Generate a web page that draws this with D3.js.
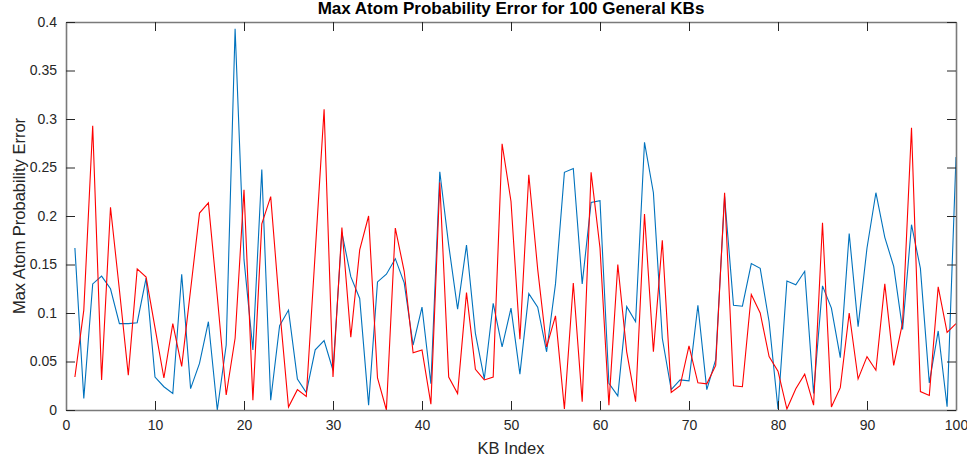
<!DOCTYPE html>
<html>
<head>
<meta charset="utf-8">
<script src="https://cdn.jsdelivr.net/npm/d3@7"></script>
<style>
  html, body { margin: 0; padding: 0; background: #fff; }
  svg { display: block; font-family: "Liberation Sans", Arial, Helvetica, sans-serif; }
</style>
</head>
<body>
<svg id="chart" width="967" height="461"></svg>
<script>
const titleText = "Max Atom Probability Error for 100 General KBs";
const xLabel = "KB Index";
const yLabel = "Max Atom Probability Error";
const xTicks = [0, 10, 20, 30, 40, 50, 60, 70, 80, 90, 100];
const yTicks = [0, 0.05, 0.1, 0.15, 0.2, 0.25, 0.3, 0.35, 0.4];
const yTickLabels = ["0", "0.05", "0.1", "0.15", "0.2", "0.25", "0.3", "0.35", "0.4"];

const kbIndex = d3.range(1, 101);

const blueSeries = [
  0.167, 0.012, 0.130, 0.138, 0.125, 0.089, 0.089, 0.090, 0.136, 0.034,
  0.024, 0.017, 0.140, 0.022, 0.048, 0.091, 0.000, 0.067, 0.393, 0.155,
  0.062, 0.248, 0.010, 0.087, 0.103, 0.032, 0.018, 0.062, 0.0715, 0.041,
  0.183, 0.1375, 0.115, 0.005, 0.132, 0.140, 0.156, 0.131, 0.067, 0.106,
  0.027, 0.2456, 0.170, 0.104, 0.170, 0.079, 0.032, 0.110, 0.065, 0.105,
  0.037, 0.120, 0.106, 0.060, 0.130, 0.245, 0.249, 0.130, 0.214, 0.2157,
  0.0275, 0.0145, 0.1066, 0.091, 0.276, 0.224, 0.074, 0.021, 0.031, 0.030,
  0.108, 0.021, 0.052, 0.220, 0.108, 0.107, 0.151, 0.146, 0.091, 0.001,
  0.133, 0.129, 0.143, 0.017, 0.128, 0.105, 0.054, 0.182, 0.086, 0.167,
  0.224, 0.178, 0.148, 0.083, 0.191, 0.146, 0.028, 0.0815, 0.0034, 0.2607
];

const redSeries = [
  0.034, 0.103, 0.293, 0.031, 0.209, 0.124, 0.036, 0.1455, 0.137, 0.085,
  0.033, 0.089, 0.045, 0.124, 0.203, 0.2135, 0.117, 0.0155, 0.074, 0.227,
  0.010, 0.192, 0.220, 0.105, 0.003, 0.021, 0.014, 0.162, 0.310, 0.034,
  0.188, 0.075, 0.165, 0.200, 0.033, 0.000, 0.1875, 0.143, 0.059, 0.062,
  0.006, 0.2346, 0.034, 0.017, 0.121, 0.042, 0.031, 0.034, 0.2745, 0.215,
  0.073, 0.2425, 0.145, 0.065, 0.097, 0.001, 0.131, 0.0086, 0.245, 0.167,
  0.005, 0.150, 0.060, 0.0086, 0.202, 0.060, 0.175, 0.018, 0.025, 0.066,
  0.028, 0.027, 0.046, 0.224, 0.025, 0.024, 0.119, 0.100, 0.055, 0.040,
  0.001, 0.022, 0.037, 0.005, 0.193, 0.003, 0.023, 0.100, 0.032, 0.055,
  0.041, 0.130, 0.046, 0.090, 0.291, 0.019, 0.015, 0.127, 0.080, 0.089
];

const svg = d3.select("#chart");
const margin = { left: 66, right: 11, top: 22, bottom: 51 };
const W = 967, H = 461;
const plotW = W - margin.left - margin.right;
const plotH = H - margin.top - margin.bottom;

const x = d3.scaleLinear().domain([0, 100]).range([margin.left, margin.left + plotW]);
const y = d3.scaleLinear().domain([0, 0.4]).range([margin.top + plotH, margin.top]);

const axisColor = "#262626";
const boxColor = "#7a7a7a";
const tickLen = 9;

// Lines
const line = d3.line().x((d, i) => x(kbIndex[i])).y(d => y(d));
const plot = svg.append("g");
plot.append("path").datum(blueSeries)
  .attr("d", line).attr("fill", "none").attr("stroke", "#0072BD").attr("stroke-width", 1.1);
plot.append("path").datum(redSeries)
  .attr("d", line).attr("fill", "none").attr("stroke", "#FF0000").attr("stroke-width", 1.1);

// Axes (bottom, left, top, right) with inward ticks
function styleAxis(g) {
  g.select(".domain").attr("stroke", boxColor).attr("stroke-width", 1.6);
  g.selectAll(".tick line").attr("stroke", axisColor).attr("stroke-width", 1);
  g.selectAll(".tick text").attr("fill", axisColor)
    .style("font-size", "14px").style("font-family", "'Liberation Sans', Arial, sans-serif");
}

const xAxisB = d3.axisBottom(x).tickValues(xTicks).tickFormat(d3.format("d"))
  .tickSizeInner(-tickLen).tickSizeOuter(0).tickPadding(8);
const gxb = svg.append("g").attr("transform", `translate(0,${margin.top + plotH})`)
  .call(xAxisB).call(styleAxis);
gxb.selectAll(".tick text").attr("y", 20).attr("dy", "0");

const xAxisT = d3.axisTop(x).tickValues(xTicks).tickFormat("")
  .tickSizeInner(-tickLen).tickSizeOuter(0);
svg.append("g").attr("transform", `translate(0,${margin.top})`).call(xAxisT).call(styleAxis);

const yAxisL = d3.axisLeft(y).tickValues(yTicks).tickFormat((d, i) => yTickLabels[i])
  .tickSizeInner(-tickLen).tickSizeOuter(0).tickPadding(9);
svg.append("g").attr("transform", `translate(${margin.left},0)`).call(yAxisL).call(styleAxis);

const yAxisR = d3.axisRight(y).tickValues(yTicks).tickFormat("")
  .tickSizeInner(-tickLen).tickSizeOuter(0);
svg.append("g").attr("transform", `translate(${margin.left + plotW},0)`).call(yAxisR).call(styleAxis);

// Title
svg.append("text")
  .attr("x", margin.left + plotW / 2).attr("y", 14)
  .attr("text-anchor", "middle")
  .style("font-size", "17px").style("font-weight", "bold")
  .attr("fill", "#000")
  .text(titleText);

// X label
svg.append("text")
  .attr("x", margin.left + plotW / 2).attr("y", 454)
  .attr("text-anchor", "middle")
  .style("font-size", "16.5px")
  .attr("fill", axisColor)
  .text(xLabel);

// Y label
svg.append("text")
  .attr("transform", `translate(25,${margin.top + plotH / 2}) rotate(-90)`)
  .attr("text-anchor", "middle")
  .style("font-size", "16.5px")
  .attr("fill", axisColor)
  .text(yLabel);
</script>
</body>
</html>
